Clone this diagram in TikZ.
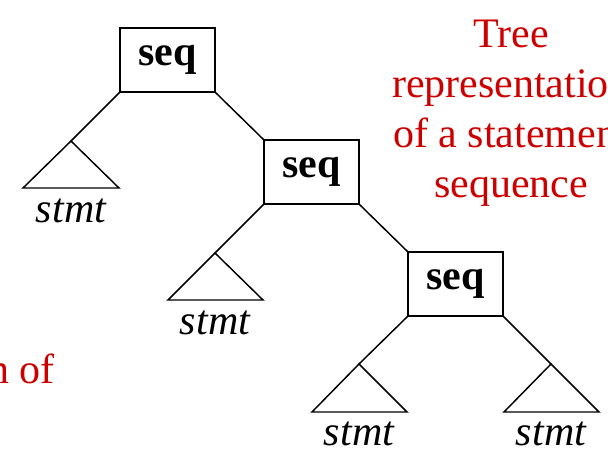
\documentclass[tikz,border=0pt]{standalone}
\usepackage{fontspec}
\setmainfont{Liberation Serif}
\definecolor{notered}{RGB}{204,0,0}
\begin{document}
\begin{tikzpicture}[x=0.75pt,y=-0.75pt,
  seqbox/.style={draw,line width=1.1pt,minimum width=71.25pt,minimum height=48pt,
    inner sep=0pt,font=\fontsize{31.5}{36}\selectfont\bfseries},
  edge/.style={line width=1.1pt},
  stmtlabel/.style={anchor=base,inner sep=0pt,font=\fontsize{31.5}{36}\selectfont\itshape},
  note/.style={text=notered,inner sep=0pt,align=center,font=\fontsize{31.5}{37.5}\selectfont}]
\useasboundingbox (0,0) rectangle (608,451);
\clip (0,0) rectangle (608,451);

% sequence nodes
\node[seqbox] (s1) at (167.5,60) {seq};
\node[seqbox] (s2) at (311.5,172) {seq};
\node[seqbox] (s3) at (455.5,284) {seq};

% subtree apexes and bases
\coordinate (t1) at (71,141);  \coordinate (t1l) at (23,188);  \coordinate (t1r) at (119,188);
\coordinate (t2) at (215,253); \coordinate (t2l) at (168,300); \coordinate (t2r) at (263,300);
\coordinate (t3) at (359,364); \coordinate (t3l) at (312,412); \coordinate (t3r) at (407,412);
\coordinate (t4) at (551,364); \coordinate (t4l) at (504,412); \coordinate (t4r) at (599,412);

% connectors
\draw[edge] (s1.south west) -- (t1);
\draw[edge] (s1.south east) -- (s2.north west);
\draw[edge] (s2.south west) -- (t2);
\draw[edge] (s2.south east) -- (s3.north west);
\draw[edge] (s3.south west) -- (t3);
\draw[edge] (s3.south east) -- (t4);

% statement subtrees
\foreach \t in {t1,t2,t3,t4}
  \draw[edge,line join=miter] (\t) -- (\t l) -- (\t r) -- cycle;

\node[stmtlabel] (l1) at (71,222) {stmt};
\node[stmtlabel] (l2) at (215,334) {stmt};
\node[stmtlabel] (l3) at (359,445) {stmt};
\node[stmtlabel] (l4) at (551,445) {stmt};

% captions
\node[note,anchor=base] (cap) at (511,197) {Tree\\representation\\of a statement\\sequence};
\node[note,anchor=base east] (cap2) at (55,383) {n of};
\end{tikzpicture}
\end{document}
